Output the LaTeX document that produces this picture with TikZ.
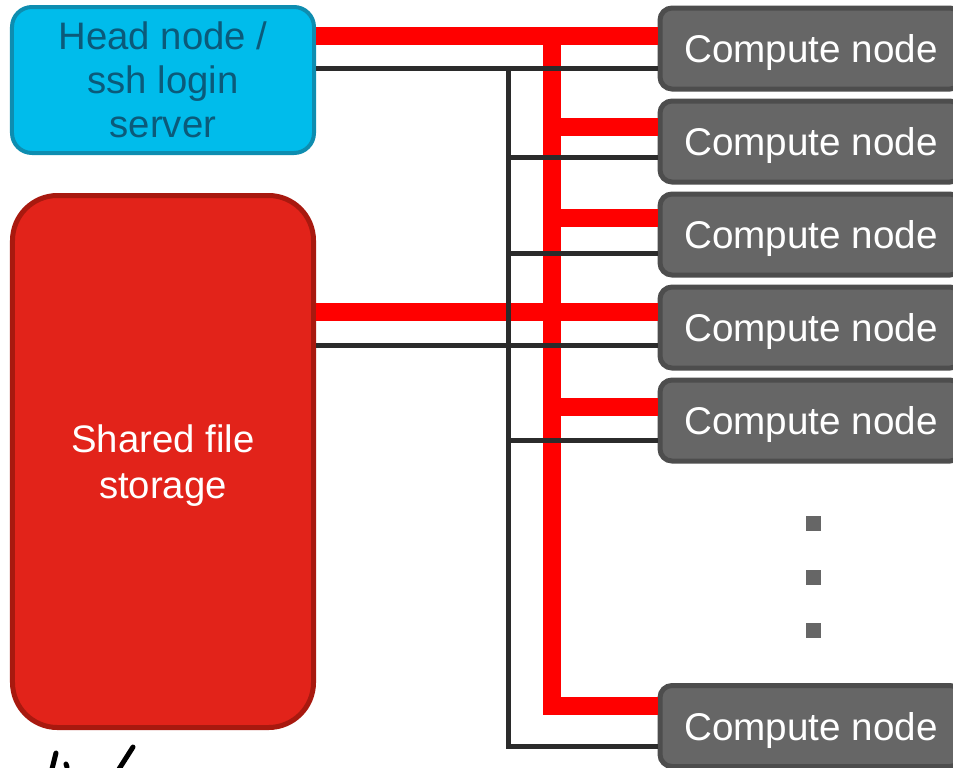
\documentclass[tikz,border=0pt]{standalone}
\usepackage{fontspec}
\setmainfont{Liberation Sans}
\usepackage{tikz}
\usetikzlibrary{positioning,calc}
\definecolor{headfill}{HTML}{00BCEB}
\definecolor{headline}{HTML}{0E8DB0}
\definecolor{headtext}{HTML}{0B5A7A}
\definecolor{storefill}{HTML}{E2231A}
\definecolor{storeline}{HTML}{A8190F}
\definecolor{cfill}{HTML}{666666}
\definecolor{cline}{HTML}{4D4D4D}
\definecolor{busred}{HTML}{FF0000}
\definecolor{busblack}{HTML}{2B2B2B}

\begin{document}
\begin{tikzpicture}[
    x=0.2mm, y=-0.2mm,
    node distance=1.4mm,
    head/.style={draw=headline, fill=headfill, line width=0.8mm, rounded corners=4mm, minimum width=60.4mm, minimum height=29.2mm, align=center, text=headtext, font=\fontsize{21.8}{25}\selectfont},
    store/.style={draw=storeline, fill=storefill, line width=1mm, rounded corners=9mm, minimum width=60.2mm, minimum height=106.4mm, align=center, text=white, text depth=-4pt, font=\fontsize{21.8}{26}\selectfont},
    compute/.style={draw=cline, fill=cfill, line width=1mm, rounded corners=2.4mm, minimum width=60.4mm, minimum height=16.2mm, text=white, text depth=0pt, font=\fontsize{22}{25}\selectfont},
    dot/.style={fill=cfill, minimum size=3mm, inner sep=0pt},
    redbus/.style={draw=busred, line width=3.6mm},
    blackbus/.style={draw=busblack, line width=1mm},
    scribble/.style={draw=black, line width=1mm, line cap=round},
]
\useasboundingbox (0,0) rectangle (953,767);
\clip (0,0) rectangle (953,767);
% Servers
\node[head] (head) at (163,80) {Head node /\\ssh login\\server};
\node[store] (store) at (163,461.5) {Shared file\\storage};
% Compute nodes
\node[compute] (c1) at (811,48.5) {Compute node};
\node[compute, below=of c1] (c2) {Compute node};
\node[compute, below=of c2] (c3) {Compute node};
\node[compute, below=of c3] (c4) {Compute node};
\node[compute, below=of c4] (c5) {Compute node};
\node[compute] (c6) at (811,726) {Compute node};
% More nodes
\foreach \i/\y in {1/523, 2/577, 3/630}
    \node[dot] (d\i) at (813,\y) {};
% Bus rails
\coordinate (redx) at (552,0);
\coordinate (blkx) at (508,0);
\coordinate (rtop) at ($(c1.west)+(0,-12.5)$);
\coordinate (rbot) at ($(c6.west)+(0,-20)$);
\coordinate (btop) at ($(c1.west)+(0,19.5)$);
\coordinate (bbot) at ($(c6.west)+(0,20)$);
% Red network
\draw[redbus] (head.east |- rtop) -- (rtop);
\draw[redbus] (redx |- rtop) -- (redx |- rbot) -- (rbot);
\foreach \n/\dy in {c2/-14.5, c3/-16.5, c5/-13.5}
    \draw[redbus] (redx |- {$(\n.west)+(0,\dy)$}) -- ($(\n.west)+(0,\dy)$);
\draw[redbus] (store.east |- {$(c4.west)+(0,-15.5)$}) -- ($(c4.west)+(0,-15.5)$);
% Black network
\draw[blackbus] (head.east |- btop) -- (btop);
\draw[blackbus] (blkx |- btop) -- (blkx |- bbot) -- (bbot);
\foreach \n/\dy in {c2/15.5, c3/18.5, c5/19.5}
    \draw[blackbus] (blkx |- {$(\n.west)+(0,\dy)$}) -- ($(\n.west)+(0,\dy)$);
\draw[blackbus] (store.east |- {$(c4.west)+(0,17.5)$}) -- ($(c4.west)+(0,17.5)$);
% Marks under storage
\draw[scribble] (56,753) -- (52,769);
\draw[scribble] (66,764) -- (67,767);
\draw[scribble] (133,747) -- (119,769);
\end{tikzpicture}
\end{document}
